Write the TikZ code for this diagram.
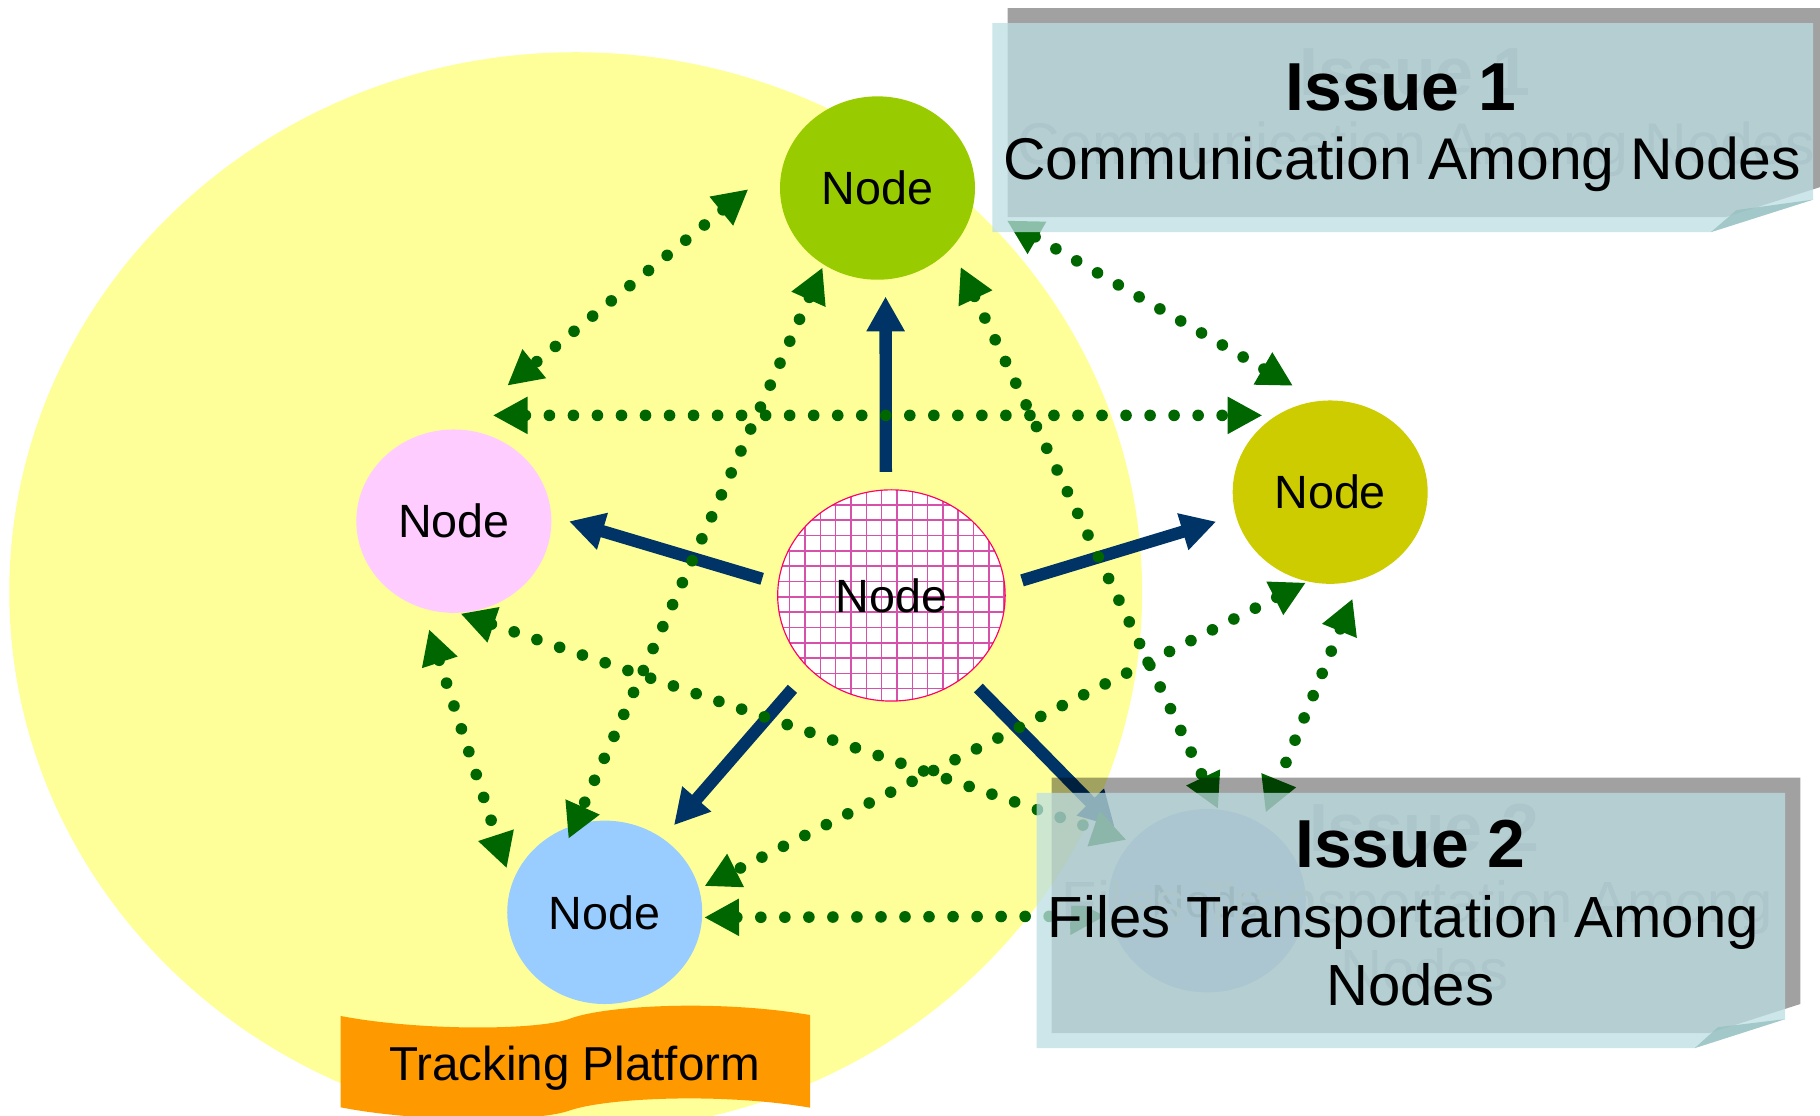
\documentclass[tikz,border=0pt]{standalone}
\usepackage{fontspec}
\setmainfont{Liberation Sans}
\usepackage{xcolor}
\usepackage{tikz}
\usetikzlibrary{arrows.meta,shapes.geometric}
\definecolor{navy}{RGB}{0, 51, 102}
\definecolor{dotgreen}{RGB}{0, 102, 0}
\definecolor{notefill}{RGB}{188, 222, 226}

\begin{document}
\begin{tikzpicture}[x=1pt,y=1pt,yscale=-1,xscale=1,
  peer/.style={ellipse, minimum width=168pt, minimum height=158pt, inner sep=0pt, font=\fontsize{40.2}{48}\selectfont},
  link/.style={draw=dotgreen, line width=10pt, line cap=round, dash pattern=on 0pt off 20.7pt, <->, >={Triangle[length=30pt,width=30pt]}},
  push/.style={draw=navy, line width=10.6pt, ->, >={Triangle[length=30pt,width=31pt]}},
  note/.style={fill=notefill, fill opacity=0.75},
  noteshadow/.style={fill=black, fill opacity=0.37},
  notefold/.style={fill={rgb, 255:red, 150; green, 190; blue, 192}, fill opacity=0.75},
  ghost/.style={text={rgb, 255:red, 172; green, 198; blue, 203}, anchor=base},
]
\useasboundingbox (0,0) rectangle (1568,961);

%Shape: Ellipse
\fill[fill={rgb, 255:red, 255; green, 255; blue, 153}] (496,510) ellipse [x radius=488, y radius=465];
%Shape: Wave
\fill[fill={rgb, 255:red, 255; green, 153; blue, 0}] (293.5,875.3) .. controls (360,888) and (460,888) .. (490,878) .. controls (520,866) and (620,861) .. (698,874.5) -- (698,954.3) .. controls (620,941) and (520,946) .. (490,957) .. controls (460,967) and (360,967) .. (293.5,954) -- cycle ;

%Shape: Ellipse
\node[peer, fill={rgb, 255:red, 153; green, 204; blue, 0}] (nTop) at (756,162) {Node};
\node[peer, fill={rgb, 255:red, 255; green, 204; blue, 255}] (nLeft) at (391,449) {Node};
\node[peer, fill={rgb, 255:red, 204; green, 204; blue, 0}] (nRight) at (1146,424) {Node};
\node[peer, fill={rgb, 255:red, 153; green, 204; blue, 255}] (nLow) at (521,786) {Node};
\node[peer, minimum width=170pt, fill={rgb, 255:red, 204; green, 204; blue, 255}, text={rgb, 255:red, 120; green, 130; blue, 150}] (nHid) at (1040,776) {Node};
\node[peer, minimum width=196pt, minimum height=182pt, fill=white, draw={rgb, 255:red, 255; green, 0; blue, 102}, line width=1pt,
  path picture={\draw[draw={rgb, 255:red, 214; green, 82; blue, 170}, line width=1.3pt] (path picture bounding box.south west) grid[step=13.2pt] (path picture bounding box.north east);}] (hub) at (768,513) {Node};

%Straight Lines
\draw[push, shorten <=15.1pt, shorten >=14.5pt] (hub.93.1) -- (nTop.275.1);
\draw[push, shorten <=14.1pt, shorten >=15.9pt] (hub.174.8) -- (nLeft.3.9);
\draw[push, shorten <=15.1pt, shorten >=17.6pt] (hub.5.1) -- (nRight.194.8);
\draw[push, shorten <=22.2pt, shorten >=14.9pt] (hub.222) -- (nLow.52.4);
\draw[push, shorten <=14.8pt, shorten >=19.3pt] (hub.313.4) -- (nHid.143.6);

%Straight Lines
\draw[link, shorten <=40.3pt, shorten >=59.4pt] (nTop.163.5) -- (nLeft.90.4);
\draw[link, shorten <=33.5pt, shorten >=12pt] (nLeft.north |- nRight.125.6) -- (nRight.125.6);
\draw[link, shorten <=2.5pt, shorten >=-13.1pt] (nTop.235.1) -- (nLow.109.7);
\draw[link, shorten <=18pt, shorten >=0.5pt] (nTop.321.1) -- (nHid.83.5);
\draw[link, shorten <=32.5pt, shorten >=25.8pt] (nTop.352.4) -- (nRight.97.3);
\draw[link, shorten <=19.1pt, shorten >=14.1pt] (nLeft.250.7) -- (nLow.163.6);
\draw[link, shorten <=1.7pt, shorten >=4.5pt] (nLeft.273.8) -- (nHid.142);
\draw[link, shorten <=1.9pt, shorten >=5.1pt] (nRight.256.8) -- (nLow.14.7);
\draw[link, shorten <=17.7pt, shorten >=10.4pt] (nRight.289.2) -- (nHid.55.2);
\draw[link, shorten <=1.6pt, shorten >=4pt] (nLow.357.8) -- (nHid.189);

%Shape: Folded Corner
\fill[noteshadow] (868,7) -- (1575,7) -- (1575,159) -- (1487,187) -- (868,187) -- cycle ;
\fill[note] (855,20) -- (1562,20) -- (1562,172) -- (1474,200) -- (855,200) -- cycle ;
\fill[notefold] (1474,200) -- (1496,181) -- (1562,172) -- cycle ;
%Shape: Folded Corner
\fill[noteshadow] (906,670) -- (1551,670) -- (1551,865) -- (1473,890) -- (906,890) -- cycle ;
\fill[note] (893,683) -- (1538,683) -- (1538,878) -- (1460,903) -- (893,903) -- cycle ;
\fill[notefold] (1460,903) -- (1480,885) -- (1538,878) -- cycle ;

% Text Node
\node[ghost, font=\fontsize{58.5}{70}\selectfont\bfseries] (issueAg) at (1219,82) {Issue 1};
\node[ghost, font=\fontsize{50.7}{61}\selectfont] (commAg) at (1220,142) {Communication Among Nodes};
\node[ghost, font=\fontsize{58.5}{70}\selectfont\bfseries] (issueBg) at (1227,734) {Issue 2};
\node[ghost, font=\fontsize{50}{60}\selectfont] (filesBg) at (1221,795) {Files Transportation Among};
\node[ghost, font=\fontsize{50}{60}\selectfont] (nodesBg) at (1227,853) {Nodes};
% Text Node
\node[anchor=base, font=\fontsize{58.5}{70}\selectfont\bfseries] (issueA) at (1207,95) {Issue 1};
% Text Node
\node[anchor=base, font=\fontsize{50.7}{61}\selectfont] (commA) at (1208,155) {Communication Among Nodes};
% Text Node
\node[anchor=base, font=\fontsize{58.5}{70}\selectfont\bfseries] (issueB) at (1215,747) {Issue 2};
% Text Node
\node[anchor=base, font=\fontsize{50}{60}\selectfont] (filesB) at (1209,808) {Files Transportation Among};
% Text Node
\node[anchor=base, font=\fontsize{50}{60}\selectfont] (nodesB) at (1215,866) {Nodes};
% Text Node
\node[anchor=base, font=\fontsize{41}{49}\selectfont] (platform) at (495,930.5) {Tracking Platform};

\end{tikzpicture}
\end{document}
